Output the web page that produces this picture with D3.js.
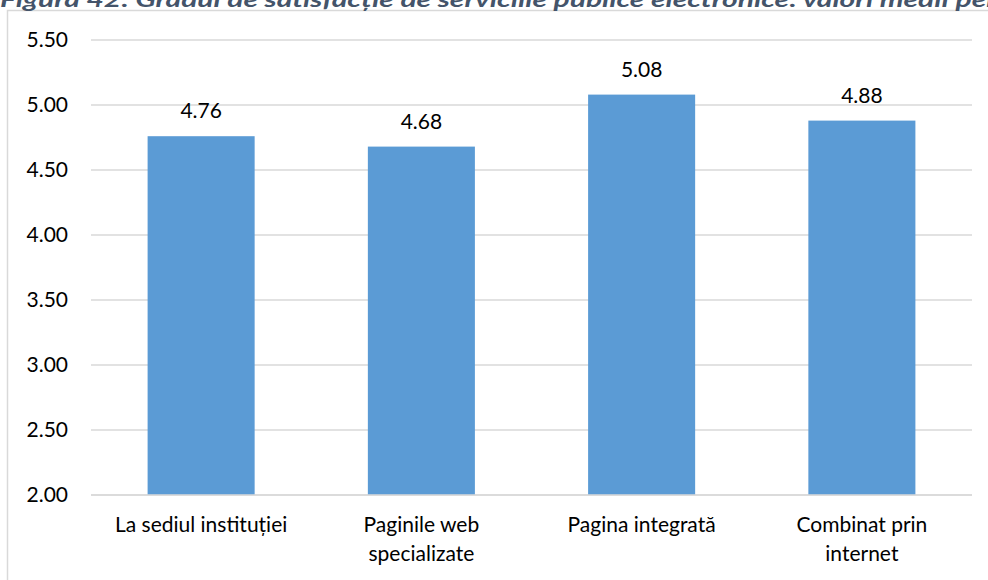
<!DOCTYPE html>
<html><head><meta charset="utf-8">
<script src="https://cdn.jsdelivr.net/npm/d3@7"></script>
<style>body{margin:0;background:#fff;} svg{display:block;}</style>
</head><body>
<script>
const titleText = "Figura 42: Gradul de satisfacție de serviciile publice electronice: valori medii pentru";
const categories = [["La sediul instituției"], ["Paginile web", "specializate"], ["Pagina integrată"], ["Combinat prin", "internet"]];
const values = [4.76, 4.68, 5.08, 4.88];
const yTicks = [2.0, 2.5, 3.0, 3.5, 4.0, 4.5, 5.0, 5.5];

const W = 988, H = 580;
const font = "Lato, 'Open Sans', sans-serif";
const fs = 21;
const svg = d3.select("body").append("svg").attr("width", W).attr("height", H);

// chart frame
svg.append("path").attr("d", "M7.5,600 V10.5 H1000").attr("fill", "none").attr("stroke", "#D9D9D9").attr("stroke-width", 1.5);

// title (partially clipped at top, as in the reference)
svg.append("text").attr("x", 0).attr("y", 7).text(titleText)
  .attr("font-family", font).attr("font-weight", "bold").attr("font-style", "italic")
  .attr("font-size", 20).attr("fill", "#44546A").attr("textLength", 1040).attr("lengthAdjust", "spacingAndGlyphs");

const x = d3.scaleBand().domain(d3.range(values.length)).range([91, 972]).paddingInner(0.514).paddingOuter(0.257);
const y = d3.scaleLinear().domain([2, 5.5]).range([495, 40]);

// gridlines
svg.append("g").selectAll("line").data(yTicks).join("line")
  .attr("x1", 91).attr("x2", 972).attr("y1", d => y(d)).attr("y2", d => y(d))
  .attr("stroke", "#D9D9D9").attr("stroke-width", 1.3);

// y labels
svg.append("g").selectAll("text").data(yTicks).join("text")
  .attr("x", 68).attr("y", d => y(d) + 7).attr("text-anchor", "end")
  .attr("font-family", font).attr("font-size", fs).attr("fill", "#000")
  .text(d => d.toFixed(2));

// bars
svg.append("g").selectAll("rect").data(values).join("rect")
  .attr("x", (d, i) => x(i)).attr("width", x.bandwidth())
  .attr("y", d => y(d)).attr("height", d => y(2) - y(d)).attr("fill", "#5B9BD5");

// baseline over bars
svg.append("line").attr("x1", 91).attr("x2", 972).attr("y1", y(2)).attr("y2", y(2)).attr("stroke", "#D9D9D9").attr("stroke-width", 1.3);

// value labels
svg.append("g").selectAll("text").data(values).join("text")
  .attr("x", (d, i) => x(i) + x.bandwidth() / 2).attr("y", d => y(d) - 18)
  .attr("text-anchor", "middle").attr("font-family", font).attr("font-size", fs).attr("fill", "#000")
  .text(d => d.toFixed(2));

// category labels
const cg = svg.append("g").selectAll("text").data(categories).join("text")
  .attr("x", (d, i) => x(i) + x.bandwidth() / 2).attr("y", 532)
  .attr("text-anchor", "middle").attr("font-family", font).attr("font-size", fs).attr("fill", "#000");
cg.selectAll("tspan").data(d => d).join("tspan")
  .attr("x", function() { return d3.select(this.parentNode).attr("x"); })
  .attr("dy", (d, i) => i === 0 ? 0 : 29).text(d => d);
</script>
</body></html>
